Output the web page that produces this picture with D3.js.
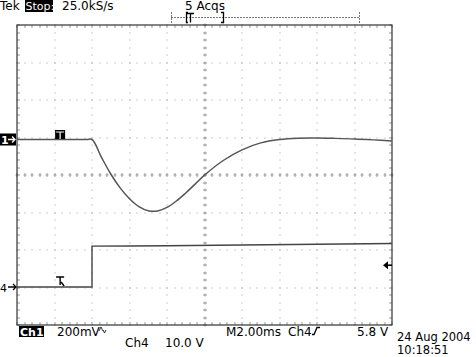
<!DOCTYPE html>
<html><head><meta charset="utf-8">
<script src="https://cdn.jsdelivr.net/npm/d3@7"></script>
<style>body{margin:0;background:#fff}svg{display:block}text{font-family:"DejaVu Sans",sans-serif;font-size:12px;fill:#000}</style>
</head><body><svg id="c" width="476" height="357"></svg>
<script>
// time in ms relative to trigger (2.00 ms/div, 10 divisions)
const timeDomain = [-4, 16];
// Ch1: 200 mV/div, values in mV
const ch1Time = [-4, -0.3, 0, 0.5, 1, 1.5, 2, 2.5, 3, 3.5, 4, 4.5, 5, 5.5, 6, 7, 8, 9, 10, 11, 12, 13, 14, 15, 16];
const ch1Values = [0, 0, 0, -94, -184, -258, -316, -358, -380, -381, -362, -328, -285, -238, -190, -112, -55, -18, 0, 7, 8, 6, 3, -2, -8];
// Ch4: 10.0 V/div, values in V
const ch4Time = [-4, 0, 0, 2, 4, 8, 12, 16];
const ch4Values = [0, 0, 10.9, 10.95, 11.0, 11.2, 11.4, 11.6];
const ch4TriggerLevel = 5.8;
const topLabels = ["Tek", "Stop:", "25.0kS/s", "5 Acqs"];
const bottomLabels = ["Ch1", "200mV", "Ch4", "10.0 V", "M2.00ms", "Ch4", "5.8 V", "24 Aug 2004", "10:18:51"];

const svg = d3.select("#c");
const L = 17, R = 392, T = 25, B = 325, DIV = 37.5;
const x = d3.scaleLinear().domain(timeDomain).range([L, R]);
const y1 = d3.scaleLinear().domain([0, 200]).range([139.5, 139.5 - DIV]);
const y4 = d3.scaleLinear().domain([0, 10]).range([287, 287 - DIV]);

const g = svg.append("g");
const dot = "#9a9a9a";
const minor = d3.range(0, 51).map(i => L + i * 7.5);
const minorY = d3.range(0, 41).map(i => T + i * 7.5);
for (let k = 1; k < 10; k++) {
  if (k === 5) continue;
  const gx = Math.round(L + k * DIV);
  minorY.forEach(yy => g.append("rect").attr("x", gx - 0.5).attr("y", Math.round(yy) - 0.5).attr("width", 1).attr("height", 1).attr("fill", dot));
}
for (let k = 1; k < 8; k++) {
  if (k === 4) continue;
  const gy = Math.round(T + k * DIV);
  minor.forEach(xx => g.append("rect").attr("x", Math.round(xx) - 0.5).attr("y", gy - 0.5).attr("width", 1).attr("height", 1).attr("fill", dot));
}
const cx = Math.round(L + 5 * DIV), cy = T + 4 * DIV;
minorY.forEach(yy => {
  yy = Math.round(yy);
  g.append("rect").attr("x", cx - 2).attr("y", yy - 0.5).attr("width", 4).attr("height", 1).attr("fill", dot);
  g.append("rect").attr("x", cx - 0.5).attr("y", yy - 1.5).attr("width", 1).attr("height", 3).attr("fill", dot);
});
minor.forEach(xx => {
  xx = Math.round(xx);
  g.append("rect").attr("x", xx - 0.5).attr("y", cy - 2).attr("width", 1).attr("height", 4).attr("fill", dot);
  g.append("rect").attr("x", xx - 1.5).attr("y", cy - 0.5).attr("width", 3).attr("height", 1).attr("fill", dot);
});
minor.forEach(xx => {
  xx = Math.round(xx);
  g.append("rect").attr("x", xx - 0.5).attr("y", T).attr("width", 1).attr("height", 3).attr("fill", dot);
  g.append("rect").attr("x", xx - 0.5).attr("y", B - 3).attr("width", 1).attr("height", 3).attr("fill", dot);
});
minorY.forEach(yy => {
  yy = Math.round(yy);
  g.append("rect").attr("x", L).attr("y", yy - 0.5).attr("width", 3).attr("height", 1).attr("fill", dot);
  g.append("rect").attr("x", R - 3).attr("y", yy - 0.5).attr("width", 3).attr("height", 1).attr("fill", dot);
});
g.append("rect").attr("x", L).attr("y", T).attr("width", R - L).attr("height", B - T)
  .attr("fill", "none").attr("stroke", "#333").attr("stroke-width", 1.2);

// traces
const line1 = d3.line().x((d, i) => x(ch1Time[i])).y(d => y1(d)).curve(d3.curveCatmullRom.alpha(0.5));
svg.append("path").attr("d", line1(ch1Values)).attr("fill", "none").attr("stroke", "#555").attr("stroke-width", 1.5);
const line4 = d3.line().x((d, i) => x(ch4Time[i])).y(d => y4(d));
svg.append("path").attr("d", line4(ch4Values)).attr("fill", "none").attr("stroke", "#444").attr("stroke-width", 1.4);

// channel ground markers
svg.append("rect").attr("x", 0).attr("y", y1(0) - 6).attr("width", 16).attr("height", 12).attr("fill", "#000");
svg.append("text").attr("x", 1).attr("y", y1(0) + 4.5).style("fill", "#fff").style("font-weight", "bold").style("font-size", "11px").text("1");
svg.append("path").attr("d", `M8,${y1(0)}H15M12,${y1(0)-3}L15,${y1(0)}L12,${y1(0)+3}`).attr("stroke", "#fff").attr("fill", "none").attr("stroke-width", 1.3);
svg.append("text").attr("x", 0).attr("y", y4(0) + 4.5).style("font-size", "11px").text("4");
svg.append("path").attr("d", `M8,${y4(0)}H16M13,${y4(0)-3}L16,${y4(0)}L13,${y4(0)+3}`).attr("stroke", "#000").attr("fill", "none").attr("stroke-width", 1.3);

// T markers on traces
const tx = x(-1.7);
svg.append("rect").attr("x", tx - 5).attr("y", y1(0) - 9.5).attr("width", 10).attr("height", 9).attr("fill", "#000");
svg.append("path").attr("d", `M${tx-4},${y1(0)-7.5}H${tx+4}M${tx},${y1(0)-7.5}V${y1(0)-0.5}`).attr("stroke", "#fff").attr("stroke-width", 1.2);
svg.append("path").attr("d", `M${tx-4},${y4(0)-10}H${tx+4}M${tx},${y4(0)-10}V${y4(0)-2}M${tx+1},${y4(0)-5}L${tx+4},${y4(0)-1}`)
  .attr("stroke", "#000").attr("fill", "none").attr("stroke-width", 1.4);

// trigger level arrow on right
const ty = y4(ch4TriggerLevel);
svg.append("path").attr("d", `M${R-9},${ty}L${R-4},${ty-4}L${R-4},${ty+4}Z`).attr("fill", "#000");
svg.append("line").attr("x1", R - 5).attr("x2", R).attr("y1", ty).attr("y2", ty).attr("stroke", "#000").attr("stroke-width", 1.5);

// top bar
svg.append("text").attr("x", 0).attr("y", 10).text(topLabels[0]);
svg.append("rect").attr("x", 25).attr("y", 0).attr("width", 28).attr("height", 12).attr("fill", "#000");
svg.append("text").attr("x", 25.5).attr("y", 10).style("fill", "#fff").style("font-size", "11px").text(topLabels[1]);
svg.append("text").attr("x", 62).attr("y", 10).text(topLabels[2]);
svg.append("text").attr("x", 185).attr("y", 10).text(topLabels[3]);
svg.append("line").attr("x1", 171).attr("x2", 359).attr("y1", 17.5).attr("y2", 17.5).attr("stroke", "#777").attr("stroke-dasharray", "2,1");
svg.append("line").attr("x1", 171.5).attr("x2", 171.5).attr("y1", 12).attr("y2", 23).attr("stroke", "#777").attr("stroke-dasharray", "2,1");
svg.append("line").attr("x1", 359.5).attr("x2", 359.5).attr("y1", 12).attr("y2", 23).attr("stroke", "#777").attr("stroke-dasharray", "2,1");
svg.append("path").attr("d", "M188,12.5H186.5V22.5H188M187,13.5H194M190.5,13.5V22.5M221,12.5H223.5V22.5H221")
  .attr("stroke", "#000").attr("fill", "none").attr("stroke-width", 1.3);

// bottom bar
svg.append("rect").attr("x", 19).attr("y", 326).attr("width", 25).attr("height", 11).attr("fill", "#000");
svg.append("text").attr("x", 20).attr("y", 335.5).style("fill", "#fff").style("font-weight", "bold").style("font-size", "11px").text(bottomLabels[0]);
svg.append("text").attr("x", 57).attr("y", 335.5).text(bottomLabels[1]);
svg.append("path").attr("d", "M99,331L101,327L103,331M103,330L104.5,333L106,330").attr("stroke", "#000").attr("fill", "none").attr("stroke-width", 0.8);
svg.append("text").attr("x", 125).attr("y", 347).text(bottomLabels[2]);
svg.append("text").attr("x", 165).attr("y", 347).text(bottomLabels[3]);
svg.append("text").attr("x", 226).attr("y", 335.5).text(bottomLabels[4]);
svg.append("text").attr("x", 288).attr("y", 335.5).text(bottomLabels[5]);
svg.append("path").attr("d", "M312,334.5H314L317,327.5H320").attr("stroke", "#000").attr("fill", "none").attr("stroke-width", 1.3);
svg.append("text").attr("x", 357).attr("y", 335.5).text(bottomLabels[6]);
svg.append("text").attr("x", 397).attr("y", 340.5).style("font-size", "11.5px").text(bottomLabels[7]);
svg.append("text").attr("x", 397).attr("y", 354).style("font-size", "11.5px").text(bottomLabels[8]);
</script></body></html>
